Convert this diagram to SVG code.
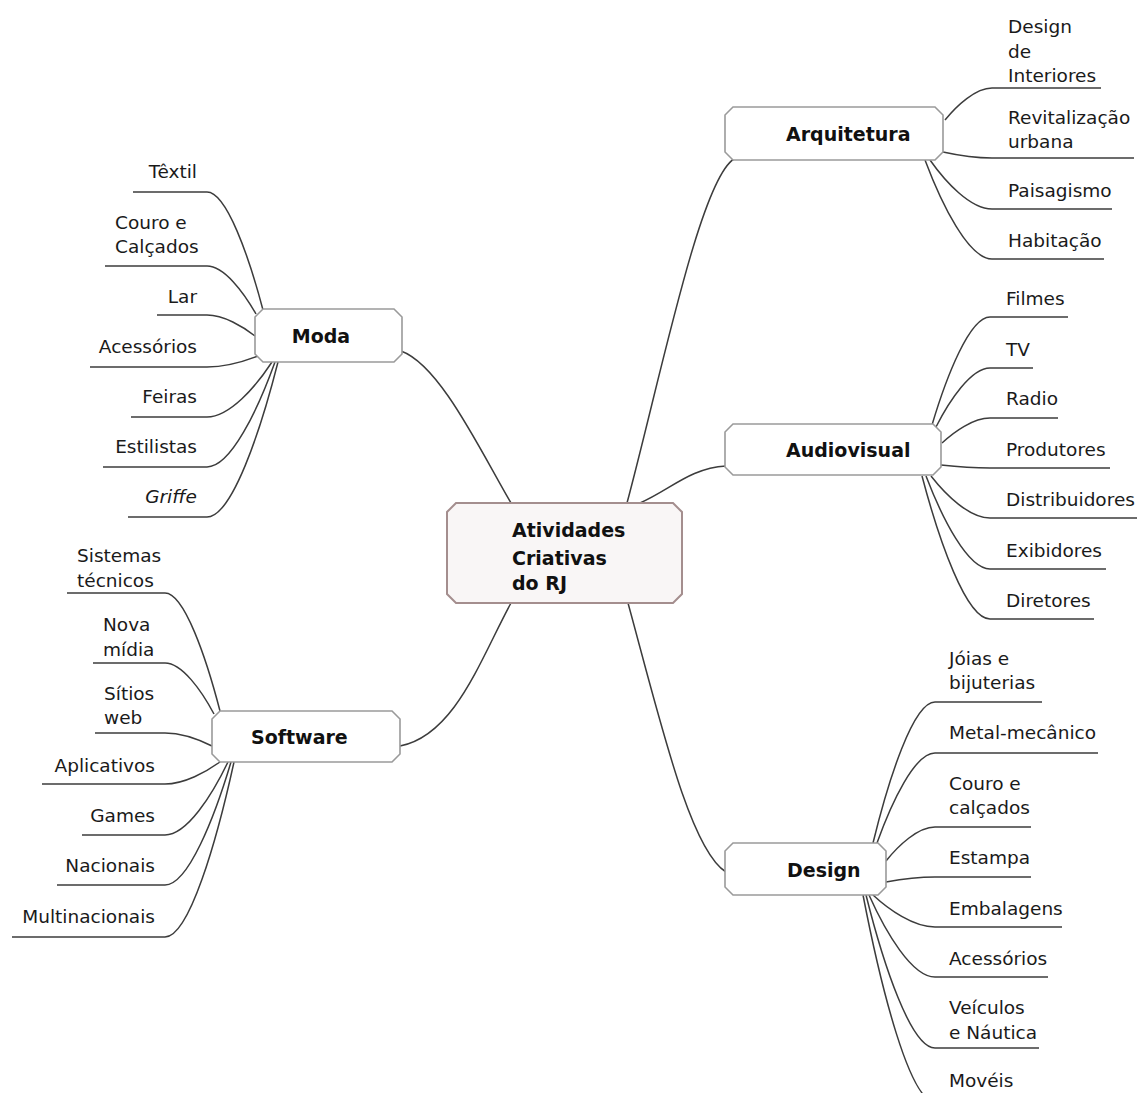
<svg xmlns="http://www.w3.org/2000/svg" width="1137" height="1093" viewBox="0 0 1137 1093">
<style>
.bg{fill:#ffffff}
.node{fill:#ffffff;stroke:#9a9a9a;stroke-width:1.6}
.center{fill:#f9f6f6;stroke:#a48e8e;stroke-width:2}
.lbl{font-family:"DejaVu Sans","Liberation Sans",sans-serif;font-size:18.5px;fill:#1a1a1a}
.bold{font-family:"DejaVu Sans","Liberation Sans",sans-serif;font-size:19px;font-weight:bold;fill:#111}
.it{font-style:italic}
.conn path{fill:none;stroke:#3c3c3c;stroke-width:1.5}
</style>
<rect class="bg" x="0" y="0" width="1137" height="1093"/>
<g id="connectors" class="conn">
<!-- center to main -->
<path d="M401,351 C440,365 480,450 511,503"/>
<path d="M627,503 C660,380 700,180 734,159"/>
<path d="M640,503 C670,490 690,468 726,466"/>
<path d="M628,603 C660,720 690,850 726,872"/>
<path d="M511,603 C480,660 455,735 400,746"/>
<!-- Arquitetura -->
<path d="M945,120 C956.75,105.6 975.55,88 992,88 H1101"/>
<path d="M943,152 C955.25,154.7 974.85,158 992,158 H1134"/>
<path d="M930,160 C945.5,182 970.3,209 992,209 H1112"/>
<path d="M925,160 C941.75,204.55 968.55,259 992,259 H1104"/>
<!-- Audiovisual -->
<path d="M932,425 C946.5,376.4 969.7,317 990,317 H1068"/>
<path d="M936,427 C949.5,400.45 971.1,368 990,368 H1033"/>
<path d="M942,443 C954,431.75 973.2,418 990,418 H1058"/>
<path d="M941,465 C953.25,466.35 972.85,468 990,468 H1110"/>
<path d="M931,476 C945.75,494.9 969.35,518 990,518 H1137"/>
<path d="M926,476 C942,517.85 967.6,569 990,569 H1106"/>
<path d="M922,476 C939,540.35 966.2,619 990,619 H1094"/>
<!-- Design -->
<path d="M873,843 C888.5,779.55 913.3,702 935,702 H1042"/>
<path d="M877,843 C891.5,802.5 914.7,753 935,753 H1098"/>
<path d="M886,861 C898.25,845.7 917.85,827 935,827 H1031"/>
<path d="M886,882 C898.25,879.75 917.85,877 935,877 H1031"/>
<path d="M873,895 C888.5,909.4 913.3,927 935,927 H1062"/>
<path d="M869,895 C885.5,931.9 911.9,977 935,977 H1048"/>
<path d="M866,895 C883.25,963.85 910.85,1048 935,1048 H1039"/>
<path d="M863,895 C881,988 909.8,1102 935,1102 H1030"/>
<!-- Moda -->
<path d="M263,310 C249,256.9 226.6,192 207,192 H133"/>
<path d="M256,314 C243.75,292.4 224.15,266 207,266 H105"/>
<path d="M255,336 C243,326.55 223.8,315 207,315 H157"/>
<path d="M258,356 C245.25,360.95 224.85,367 207,367 H90"/>
<path d="M272,362 C255.75,386.75 229.75,417 207,417 H131"/>
<path d="M275,362 C258,409.25 230.8,467 207,467 H103"/>
<path d="M278,362 C260.25,431.75 231.85,517 207,517 H128"/>
<!-- Software -->
<path d="M220,711 C206.25,657.9 184.25,593 165,593 H67"/>
<path d="M214,714 C201.75,691 182.15,663 165,663 H93"/>
<path d="M212,746 C200.25,740.15 181.45,733 165,733 H95"/>
<path d="M220,762 C206.25,771.9 184.25,784 165,784 H42"/>
<path d="M228,762 C212.25,794.85 187.05,835 165,835 H82"/>
<path d="M231,762 C214.5,817.35 188.1,885 165,885 H57"/>
<path d="M234,762 C216.75,840.75 189.15,937 165,937 H12"/>
</g>
<g id="center">
<polygon class="center" points="456,503 673,503 682,512 682,594 673,603 456,603 447,594 447,512"/>
<text class="bold" x="512" y="537">Atividades</text>
<text class="bold" x="512" y="565">Criativas</text>
<text class="bold" x="512" y="590">do RJ</text>
</g>
<g id="moda">
<polygon class="node" points="263,309 394,309 402,317 402,354 394,362 263,362 255,354 255,317"/>
<text class="bold" x="321" y="343" text-anchor="middle">Moda</text>
</g>
<g id="arquitetura">
<polygon class="node" points="733,107 935,107 943,115 943,152 935,160 733,160 725,152 725,115"/>
<text class="bold" x="786" y="141">Arquitetura</text>
</g>
<g id="audiovisual">
<polygon class="node" points="733,424 933,424 941,432 941,467 933,475 733,475 725,467 725,432"/>
<text class="bold" x="786" y="457">Audiovisual</text>
</g>
<g id="design">
<polygon class="node" points="733,843 878,843 886,851 886,887 878,895 733,895 725,887 725,851"/>
<text class="bold" x="787" y="877">Design</text>
</g>
<g id="software">
<polygon class="node" points="220,711 392,711 400,719 400,754 392,762 220,762 212,754 212,719"/>
<text class="bold" x="251" y="744">Software</text>
</g>
<g id="arq-leaves">
<g id="leaf-design-interiores"><text class="lbl" x="1008" y="33">Design</text><text class="lbl" x="1008" y="58">de</text><text class="lbl" x="1008" y="82">Interiores</text></g>
<g id="leaf-revitalizacao"><text class="lbl" x="1008" y="124">Revitalização</text><text class="lbl" x="1008" y="148">urbana</text></g>
<g id="leaf-paisagismo"><text class="lbl" x="1008" y="197">Paisagismo</text></g>
<g id="leaf-habitacao"><text class="lbl" x="1008" y="247">Habitação</text></g>
</g>
<g id="audio-leaves">
<g id="leaf-filmes"><text class="lbl" x="1006" y="305">Filmes</text></g>
<g id="leaf-tv"><text class="lbl" x="1006" y="356">TV</text></g>
<g id="leaf-radio"><text class="lbl" x="1006" y="405">Radio</text></g>
<g id="leaf-produtores"><text class="lbl" x="1006" y="456">Produtores</text></g>
<g id="leaf-distribuidores"><text class="lbl" x="1006" y="506">Distribuidores</text></g>
<g id="leaf-exibidores"><text class="lbl" x="1006" y="557">Exibidores</text></g>
<g id="leaf-diretores"><text class="lbl" x="1006" y="607">Diretores</text></g>
</g>
<g id="design-leaves">
<g id="leaf-joias"><text class="lbl" x="949" y="665">Jóias e</text><text class="lbl" x="949" y="689">bijuterias</text></g>
<g id="leaf-metal"><text class="lbl" x="949" y="739">Metal-mecânico</text></g>
<g id="leaf-couro-design"><text class="lbl" x="949" y="790">Couro e</text><text class="lbl" x="949" y="814">calçados</text></g>
<g id="leaf-estampa"><text class="lbl" x="949" y="864">Estampa</text></g>
<g id="leaf-embalagens"><text class="lbl" x="949" y="915">Embalagens</text></g>
<g id="leaf-acessorios-design"><text class="lbl" x="949" y="965">Acessórios</text></g>
<g id="leaf-veiculos"><text class="lbl" x="949" y="1014">Veículos</text><text class="lbl" x="949" y="1039">e Náutica</text></g>
<g id="leaf-moveis"><text class="lbl" x="949" y="1087">Movéis</text></g>
</g>
<g id="moda-leaves">
<g id="leaf-textil"><text class="lbl" x="197" y="178" text-anchor="end">Têxtil</text></g>
<g id="leaf-couro-moda"><text class="lbl" x="115" y="229">Couro e</text><text class="lbl" x="115" y="253">Calçados</text></g>
<g id="leaf-lar"><text class="lbl" x="197" y="303" text-anchor="end">Lar</text></g>
<g id="leaf-acessorios-moda"><text class="lbl" x="197" y="353" text-anchor="end">Acessórios</text></g>
<g id="leaf-feiras"><text class="lbl" x="197" y="403" text-anchor="end">Feiras</text></g>
<g id="leaf-estilistas"><text class="lbl" x="197" y="453" text-anchor="end">Estilistas</text></g>
<g id="leaf-griffe"><text class="lbl it" x="197" y="503" text-anchor="end">Griffe</text></g>
</g>
<g id="software-leaves">
<g id="leaf-sistemas"><text class="lbl" x="77" y="562">Sistemas</text><text class="lbl" x="77" y="587">técnicos</text></g>
<g id="leaf-nova"><text class="lbl" x="103" y="631">Nova</text><text class="lbl" x="103" y="656">mídia</text></g>
<g id="leaf-sitios"><text class="lbl" x="104" y="700">Sítios</text><text class="lbl" x="104" y="724">web</text></g>
<g id="leaf-aplicativos"><text class="lbl" x="155" y="772" text-anchor="end">Aplicativos</text></g>
<g id="leaf-games"><text class="lbl" x="155" y="822" text-anchor="end">Games</text></g>
<g id="leaf-nacionais"><text class="lbl" x="155" y="872" text-anchor="end">Nacionais</text></g>
<g id="leaf-multinacionais"><text class="lbl" x="155" y="923" text-anchor="end">Multinacionais</text></g>
</g>
</svg>
